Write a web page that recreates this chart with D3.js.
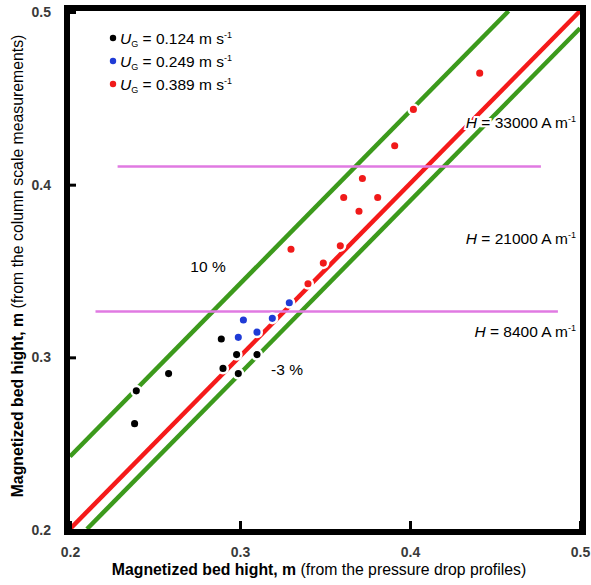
<!DOCTYPE html>
<html>
<head>
<meta charset="utf-8">
<script src="https://cdn.jsdelivr.net/npm/d3@7"></script>
<style>
  body { margin: 0; background: #fff; }
  text { font-family: "Liberation Sans", Arial, sans-serif; }
</style>
</head>
<body>
<div id="chart"></div>
<script>
// values: [pressure-drop height, column-scale height]
const ug124 = [[0.238, 0.261], [0.239, 0.280], [0.258, 0.290], [0.289, 0.310],
               [0.290, 0.293], [0.298, 0.301], [0.299, 0.290], [0.310, 0.301]];
const ug249 = [[0.299, 0.311], [0.302, 0.321], [0.310, 0.314], [0.319, 0.322], [0.329, 0.331]];
const ug389 = [[0.330, 0.362], [0.340, 0.342], [0.349, 0.354], [0.359, 0.364], [0.361, 0.392],
               [0.370, 0.384], [0.372, 0.403], [0.381, 0.392], [0.391, 0.422], [0.402, 0.443],
               [0.441, 0.464]];
const seriesNames = ['0.124', '0.249', '0.389'];
const seriesColors = ['#000000', '#1f3bd6', '#f01a1a'];
const fieldLines = [0.410, 0.326];           // horizontal limits between field strengths
const fieldLineX = [[0.228, 0.477], [0.215, 0.487]];
const fieldLabels = [['33000', 0.435], ['21000', 0.368], ['8400', 0.314]];
const ticks = [0.2, 0.3, 0.4, 0.5];

const width = 591;
const height = 585;

const x = d3.scaleLinear().domain([0.2, 0.5]).range([70, 580]);
const y = d3.scaleLinear().domain([0.2, 0.5]).range([529, 11]);

const svg = d3.select('#chart')
              .append('svg')
              .attr('width', width)
              .attr('height', height);

const line = d3.line().x(d => x(d[0])).y(d => y(d[1]));

// parity line and +/- bands
svg.append('path')
   .attr('d', line([[0.2, 0.2], [0.5, 0.5]]))
   .attr('stroke', '#f51a1a').attr('stroke-width', 4.5).attr('fill', 'none');
svg.append('path')
   .attr('d', line([[0.2, 0.242], [0.458, 0.5]]))
   .attr('stroke', '#3c9a1c').attr('stroke-width', 4.5).attr('fill', 'none');
svg.append('path')
   .attr('d', line([[0.21, 0.2], [0.5, 0.49]]))
   .attr('stroke', '#3c9a1c').attr('stroke-width', 4.5).attr('fill', 'none');

svg.selectAll('.field')
   .data(fieldLines)
   .enter()
   .append('line')
   .attr('class', 'field')
   .attr('x1', (d, i) => x(fieldLineX[i][0]))
   .attr('x2', (d, i) => x(fieldLineX[i][1]))
   .attr('y1', d => y(d))
   .attr('y2', d => y(d))
   .attr('stroke', '#e07ae2')
   .attr('stroke-width', 2.5);

// points, white rim cuts the lines like in the original
[ug124, ug249, ug389].forEach((s, i) => {
  svg.append('g')
     .selectAll('circle')
     .data(s)
     .enter()
     .append('circle')
     .attr('cx', d => x(d[0]))
     .attr('cy', d => y(d[1]))
     .attr('r', 4.8)
     .attr('fill', seriesColors[i])
     .attr('stroke', '#fff')
     .attr('stroke-width', 2.5);
});

// frame
svg.append('rect')
   .attr('x', x(0.2) - 3)
   .attr('y', y(0.5) - 3)
   .attr('width', x(0.5) - x(0.2) + 6)
   .attr('height', y(0.2) - y(0.5) + 6)
   .attr('fill', 'none')
   .attr('stroke', '#000')
   .attr('stroke-width', 6);

const xAxis = d3.axisBottom(x).tickValues(ticks).tickFormat(d3.format('.1f'))
                .tickSize(-9).tickPadding(17);
const yAxis = d3.axisLeft(y).tickValues(ticks).tickFormat(d3.format('.1f'))
                .tickSize(-9).tickPadding(16);

const gx = svg.append('g')
              .attr('transform', `translate(0, ${y(0.2) + 1})`)
              .call(xAxis);
const gy = svg.append('g')
              .attr('transform', `translate(${x(0.2) - 3}, 1)`)
              .call(yAxis);

[gx, gy].forEach(g => {
  g.select('.domain').remove();
  g.selectAll('line').attr('stroke', '#000').attr('stroke-width', 3);
  g.selectAll('text')
   .attr('font-family', '"Liberation Sans", Arial, sans-serif')
   .attr('font-size', 14)
   .attr('font-weight', 'bold')
   .attr('fill', '#3a3a3a');
});

// legend
seriesNames.forEach((n, i) => {
  const ly = 39 + i * 23;
  svg.append('circle')
     .attr('cx', 113).attr('cy', ly - 1).attr('r', 3.2)
     .attr('fill', seriesColors[i]);
  const t = svg.append('text')
               .attr('x', 120).attr('y', ly + 5)
               .attr('font-size', 15.5)
               .attr('fill', '#000');
  t.append('tspan').attr('font-style', 'italic').text('U');
  t.append('tspan').attr('font-size', 9).attr('dy', 3).text('G');
  t.append('tspan').attr('dy', -3).text(` = ${n} m s`);
  t.append('tspan').attr('font-size', 9).attr('dy', -6).text('-1');
});

// field labels (white halo breaks the green line, as in the source)
fieldLabels.forEach(f => {
  const t = svg.append('text')
               .attr('x', 576).attr('y', y(f[1]) + 5)
               .attr('text-anchor', 'end')
               .attr('font-size', 15.5)
               .attr('fill', '#000')
               .attr('stroke', '#fff')
               .attr('stroke-width', 4)
               .attr('paint-order', 'stroke');
  t.append('tspan').attr('font-style', 'italic').text('H');
  t.append('tspan').text(` = ${f[0]} A m`);
  t.append('tspan').attr('font-size', 9).attr('dy', -6).text('-1');
});

svg.append('text')
   .attr('x', 208).attr('y', 272)
   .attr('text-anchor', 'middle').attr('font-size', 15.5)
   .text('10 %');
svg.append('text')
   .attr('x', 287).attr('y', 375)
   .attr('text-anchor', 'middle').attr('font-size', 15.5)
   .text('-3 %');

// axis titles
const xt = svg.append('text')
              .attr('x', 319).attr('y', 575)
              .attr('text-anchor', 'middle')
              .attr('font-size', 15.8);
xt.append('tspan').attr('font-weight', 'bold').text('Magnetized bed hight, m');
xt.append('tspan').text(' (from the pressure drop profiles)');

const yt = svg.append('text')
              .attr('transform', 'translate(23, 266) rotate(-90)')
              .attr('text-anchor', 'middle')
              .attr('font-size', 15.8);
yt.append('tspan').attr('font-weight', 'bold').text('Magnetized bed hight, m');
yt.append('tspan').text(' (from the column scale measurements)');
</script>
</body>
</html>
